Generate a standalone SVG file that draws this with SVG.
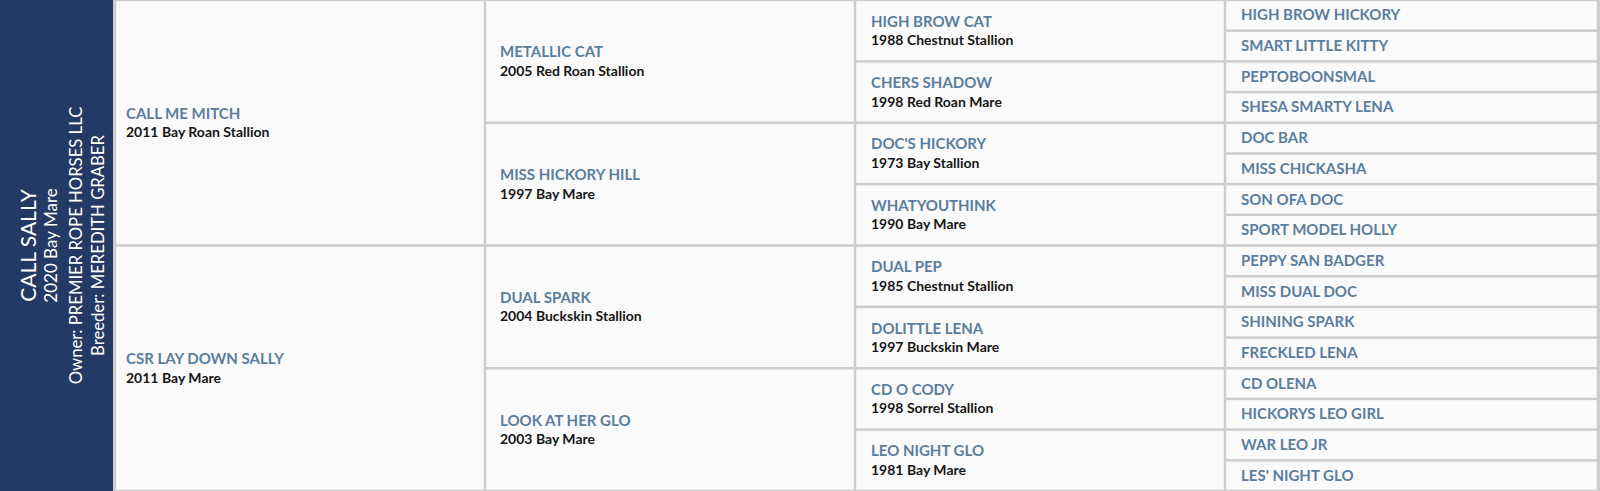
<svg xmlns="http://www.w3.org/2000/svg" width="1600" height="491" viewBox="0 0 1600 491">
<style>
.bg{fill:#cdcdcd}
.cell{fill:#fafafa}
.nm{font-family:Lato,"Open Sans","DejaVu Sans",sans-serif;font-weight:700;font-size:15px;fill:#5a7e9e}
.sb{font-family:Lato,"Open Sans","DejaVu Sans",sans-serif;font-weight:700;font-size:14px;fill:#161616}
.pn{fill:#243a64}
.pt{font-family:Lato,"Open Sans","DejaVu Sans",sans-serif;fill:#ffffff;text-anchor:middle}
</style>
<rect x="0" y="0" width="1600" height="491" fill="#ffffff"/>
<rect class="bg" x="113" y="0" width="1487" height="491"/>
<g id="subject">
<rect class="pn" x="0" y="0" width="113" height="491"/>
<text class="pt" transform="translate(36,245.5) rotate(-90)" font-size="21">CALL SALLY</text>
<text class="pt" transform="translate(57,245.5) rotate(-90)" font-size="17">2020 Bay Mare</text>
<text class="pt" transform="translate(82,245.5) rotate(-90)" font-size="16.7">Owner: PREMIER ROPE HORSES LLC</text>
<text class="pt" transform="translate(104,245.5) rotate(-90)" font-size="16.7">Breeder: MEREDITH GRABER</text>
</g>
<g id="sire">
<rect class="cell" x="116.25" y="1.25" width="367.5" height="243"/>
<text class="nm" x="126" y="118.75">CALL ME MITCH</text>
<text class="sb" x="126" y="137.25">2011 Bay Roan Stallion</text>
</g>
<g id="dam">
<rect class="cell" x="116.25" y="246.75" width="367.5" height="243"/>
<text class="nm" x="126" y="364.25">CSR LAY DOWN SALLY</text>
<text class="sb" x="126" y="382.75">2011 Bay Mare</text>
</g>
<g id="g2-1">
<rect class="cell" x="486.25" y="1.25" width="367.5" height="120.25"/>
<text class="nm" x="500" y="57.4">METALLIC CAT</text>
<text class="sb" x="500" y="75.9">2005 Red Roan Stallion</text>
</g>
<g id="g2-2">
<rect class="cell" x="486.25" y="124" width="367.5" height="120.25"/>
<text class="nm" x="500" y="180.1">MISS HICKORY HILL</text>
<text class="sb" x="500" y="198.6">1997 Bay Mare</text>
</g>
<g id="g2-3">
<rect class="cell" x="486.25" y="246.75" width="367.5" height="120.25"/>
<text class="nm" x="500" y="302.9">DUAL SPARK</text>
<text class="sb" x="500" y="321.4">2004 Buckskin Stallion</text>
</g>
<g id="g2-4">
<rect class="cell" x="486.25" y="369.5" width="367.5" height="120.25"/>
<text class="nm" x="500" y="425.6">LOOK AT HER GLO</text>
<text class="sb" x="500" y="444.1">2003 Bay Mare</text>
</g>
<g id="g3-1">
<rect class="cell" x="856.25" y="1.25" width="367.5" height="58.875"/>
<text class="nm" x="871" y="26.7">HIGH BROW CAT</text>
<text class="sb" x="871" y="45.2">1988 Chestnut Stallion</text>
</g>
<g id="g3-2">
<rect class="cell" x="856.25" y="62.625" width="367.5" height="58.875"/>
<text class="nm" x="871" y="88.1">CHERS SHADOW</text>
<text class="sb" x="871" y="106.6">1998 Red Roan Mare</text>
</g>
<g id="g3-3">
<rect class="cell" x="856.25" y="124" width="367.5" height="58.875"/>
<text class="nm" x="871" y="149.4">DOC'S HICKORY</text>
<text class="sb" x="871" y="167.9">1973 Bay Stallion</text>
</g>
<g id="g3-4">
<rect class="cell" x="856.25" y="185.375" width="367.5" height="58.875"/>
<text class="nm" x="871" y="210.8">WHATYOUTHINK</text>
<text class="sb" x="871" y="229.3">1990 Bay Mare</text>
</g>
<g id="g3-5">
<rect class="cell" x="856.25" y="246.75" width="367.5" height="58.875"/>
<text class="nm" x="871" y="272.2">DUAL PEP</text>
<text class="sb" x="871" y="290.7">1985 Chestnut Stallion</text>
</g>
<g id="g3-6">
<rect class="cell" x="856.25" y="308.125" width="367.5" height="58.875"/>
<text class="nm" x="871" y="333.6">DOLITTLE LENA</text>
<text class="sb" x="871" y="352.1">1997 Buckskin Mare</text>
</g>
<g id="g3-7">
<rect class="cell" x="856.25" y="369.5" width="367.5" height="58.875"/>
<text class="nm" x="871" y="394.9">CD O CODY</text>
<text class="sb" x="871" y="413.4">1998 Sorrel Stallion</text>
</g>
<g id="g3-8">
<rect class="cell" x="856.25" y="430.875" width="367.5" height="58.875"/>
<text class="nm" x="871" y="456.3">LEO NIGHT GLO</text>
<text class="sb" x="871" y="474.8">1981 Bay Mare</text>
</g>
<g id="g4-1"><rect class="cell" x="1226.25" y="1.25" width="370.5" height="28.19"/><text class="nm" x="1241" y="20.3">HIGH BROW HICKORY</text></g>
<g id="g4-2"><rect class="cell" x="1226.25" y="31.94" width="370.5" height="28.19"/><text class="nm" x="1241" y="51.0">SMART LITTLE KITTY</text></g>
<g id="g4-3"><rect class="cell" x="1226.25" y="62.63" width="370.5" height="28.19"/><text class="nm" x="1241" y="81.7">PEPTOBOONSMAL</text></g>
<g id="g4-4"><rect class="cell" x="1226.25" y="93.31" width="370.5" height="28.19"/><text class="nm" x="1241" y="112.4">SHESA SMARTY LENA</text></g>
<g id="g4-5"><rect class="cell" x="1226.25" y="124.0" width="370.5" height="28.19"/><text class="nm" x="1241" y="143.1">DOC BAR</text></g>
<g id="g4-6"><rect class="cell" x="1226.25" y="154.69" width="370.5" height="28.19"/><text class="nm" x="1241" y="173.8">MISS CHICKASHA</text></g>
<g id="g4-7"><rect class="cell" x="1226.25" y="185.38" width="370.5" height="28.19"/><text class="nm" x="1241" y="204.5">SON OFA DOC</text></g>
<g id="g4-8"><rect class="cell" x="1226.25" y="216.06" width="370.5" height="28.19"/><text class="nm" x="1241" y="235.2">SPORT MODEL HOLLY</text></g>
<g id="g4-9"><rect class="cell" x="1226.25" y="246.75" width="370.5" height="28.19"/><text class="nm" x="1241" y="265.8">PEPPY SAN BADGER</text></g>
<g id="g4-10"><rect class="cell" x="1226.25" y="277.44" width="370.5" height="28.19"/><text class="nm" x="1241" y="296.5">MISS DUAL DOC</text></g>
<g id="g4-11"><rect class="cell" x="1226.25" y="308.13" width="370.5" height="28.19"/><text class="nm" x="1241" y="327.2">SHINING SPARK</text></g>
<g id="g4-12"><rect class="cell" x="1226.25" y="338.81" width="370.5" height="28.19"/><text class="nm" x="1241" y="357.9">FRECKLED LENA</text></g>
<g id="g4-13"><rect class="cell" x="1226.25" y="369.5" width="370.5" height="28.19"/><text class="nm" x="1241" y="388.6">CD OLENA</text></g>
<g id="g4-14"><rect class="cell" x="1226.25" y="400.19" width="370.5" height="28.19"/><text class="nm" x="1241" y="419.3">HICKORYS LEO GIRL</text></g>
<g id="g4-15"><rect class="cell" x="1226.25" y="430.88" width="370.5" height="28.19"/><text class="nm" x="1241" y="450.0">WAR LEO JR</text></g>
<g id="g4-16"><rect class="cell" x="1226.25" y="461.56" width="370.5" height="28.19"/><text class="nm" x="1241" y="480.7">LES' NIGHT GLO</text></g>
<g id="connectors"></g>
</svg>
